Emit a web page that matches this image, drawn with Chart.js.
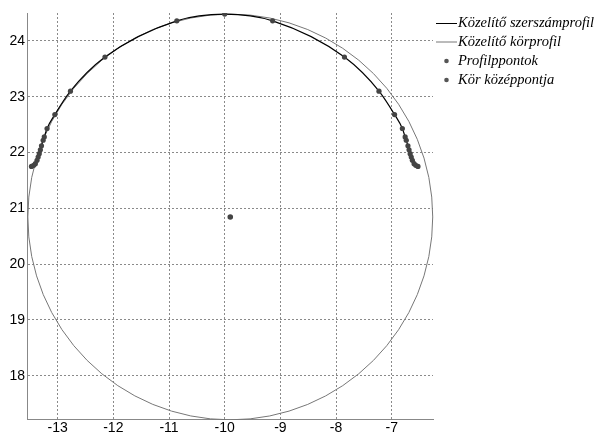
<!DOCTYPE html>
<html>
<head>
<meta charset="utf-8">
<script src="https://cdn.jsdelivr.net/npm/chart.js@4"></script>
<style>
  body { margin: 0; background: #fff; }
</style>
</head>
<body>
<canvas id="grafikon" width="596" height="433"></canvas>
<script>
// profilpontok (balról lentről felfelé, majd jobbra le)
const profilX = [-13.47, -13.43, -13.40, -13.37, -13.35, -13.33, -13.31, -13.29, -13.26, -13.24, -13.19, -13.05, -12.77, -12.15, -10.86,
    -10.00,
    -9.14, -7.85, -7.23, -6.95, -6.81, -6.76, -6.74, -6.71, -6.69, -6.67, -6.65, -6.63, -6.60, -6.57, -6.53];
const profilY = [21.75, 21.77, 21.80, 21.86, 21.92, 21.98, 22.05, 22.12, 22.22, 22.28, 22.43, 22.68, 23.10, 23.71, 24.36,
    24.48,
    24.36, 23.71, 23.10, 22.68, 22.43, 22.28, 22.22, 22.12, 22.05, 21.98, 21.92, 21.86, 21.80, 21.77, 21.75];

// közelítő kör
const korKozeppont = [-9.90, 20.845];
const korSugar = 3.635;

const xTicks = [-13, -12, -11, -10, -9, -8, -7];
const yTicks = [18, 19, 20, 21, 22, 23, 24];

const legendNevek = ["Közelítő szerszámprofil", "Közelítő körprofil", "Profilppontok", "Kör középpontja"];

const profilPontok = profilX.map((x, i) => ({x: x, y: profilY[i]}));

const korPlugin = {
    id: "kor",
    beforeDatasetsDraw(chart) {
        const {ctx, chartArea, scales: {x, y}} = chart;
        const cx = x.getPixelForValue(korKozeppont[0]);
        const cy = y.getPixelForValue(korKozeppont[1]);
        const rx = Math.abs(x.getPixelForValue(korKozeppont[0] + korSugar) - cx);
        const ry = Math.abs(y.getPixelForValue(korKozeppont[1] + korSugar) - cy);
        ctx.save();
        ctx.beginPath();
        ctx.rect(chartArea.left - 1, chartArea.top - 1, chartArea.width + 2, chartArea.height + 2);
        ctx.clip();
        ctx.beginPath();
        ctx.ellipse(cx, cy, rx, ry, 0, 0, Math.PI * 2);
        ctx.strokeStyle = "#777";
        ctx.lineWidth = 1;
        ctx.stroke();
        ctx.restore();
    },
};

const legendPlugin = {
    id: "sajatLegend",
    afterDraw(chart) {
        const ctx = chart.ctx;
        const sorok = [23.5, 42, 61, 80];
        ctx.save();
        ctx.font = "italic 14.5px 'Liberation Serif'";
        ctx.textBaseline = "middle";
        ctx.fillStyle = "#000";
        sorok.forEach((sy, i) => {
            if (i < 2) {
                ctx.beginPath();
                ctx.moveTo(436, sy);
                ctx.lineTo(457, sy);
                ctx.strokeStyle = i == 0 ? "#000" : "#777";
                ctx.lineWidth = 1;
                ctx.stroke();
            } else {
                ctx.beginPath();
                ctx.arc(446.5, sy, 2.3, 0, Math.PI * 2);
                ctx.fillStyle = "#555";
                ctx.fill();
                ctx.fillStyle = "#000";
            }
            ctx.fillText(legendNevek[i], 458, sy);
        });
        ctx.restore();
    },
};

const racs = {
    color: "#8a8a8a",
    lineWidth: 1,
    drawTicks: false,
};

const config = {
    type: "scatter",
    data: {
        datasets: [
            {
                data: profilPontok,
                showLine: true,
                cubicInterpolationMode: "monotone",
                borderColor: "#000",
                borderWidth: 1.2,
                pointRadius: 0,
                order: 3,
            },
            {
                data: profilPontok,
                pointRadius: 2.6,
                pointBackgroundColor: "#444",
                pointBorderWidth: 0,
                order: 2,
            },
            {
                data: [{x: korKozeppont[0], y: korKozeppont[1]}],
                pointRadius: 2.8,
                pointBackgroundColor: "#444",
                pointBorderWidth: 0,
                order: 1,
            },
        ],
    },
    options: {
        responsive: false,
        animation: false,
        devicePixelRatio: 1,
        layout: {padding: {top: 13, right: 163, left: 0, bottom: 0}},
        scales: {
            x: {
                type: "linear",
                min: -13.55,
                max: -6.26,
                afterBuildTicks: (s) => { s.ticks = xTicks.map((v) => ({value: v})); },
                afterFit: (s) => { s.height = 14; },
                grid: racs,
                border: {display: true, color: "#888", width: 1, dash: [2, 2]},
                ticks: {
                    color: "#000",
                    padding: 1,
                    maxRotation: 0,
                    font: {family: "'Liberation Sans', Arial", size: 14},
                },
            },
            y: {
                type: "linear",
                min: 17.225,
                max: 24.5,
                afterBuildTicks: (s) => { s.ticks = yTicks.map((v) => ({value: v})); },
                afterFit: (s) => { s.width = 27; },
                grid: racs,
                border: {display: true, color: "#888", width: 1, dash: [2, 2]},
                ticks: {
                    color: "#000",
                    padding: 2,
                    font: {family: "'Liberation Sans', Arial", size: 14},
                },
            },
        },
        plugins: {
            legend: {display: false},
            tooltip: {enabled: false},
        },
    },
    plugins: [korPlugin, legendPlugin],
};

const grafikon = new Chart(document.getElementById("grafikon"), config);
</script>
</body>
</html>
